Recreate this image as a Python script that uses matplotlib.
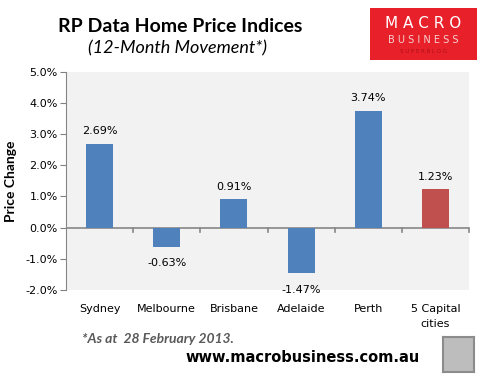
import matplotlib.pyplot as plt
from matplotlib.patches import Rectangle
from matplotlib.ticker import FuncFormatter

cities = ['Sydney', 'Melbourne', 'Brisbane', 'Adelaide', 'Perth', '5 Capital\ncities']
change = [2.69, -0.63, 0.91, -1.47, 3.74, 1.23]
bar_colors = ['#4F81BD'] * 5 + ['#C0504D']
y_ticks = [-2, -1, 0, 1, 2, 3, 4, 5]

fig = plt.figure(figsize=(4.91, 3.80), dpi=100)
fig.patch.set_facecolor('white')

# plot area in pixel terms
W, H = 491, 380
ax = fig.add_axes([66 / W, (H - 290) / H, (469 - 66) / W, (290 - 71.5) / H])
ax.set_facecolor('#F2F2F2')

x = list(range(len(cities)))
ax.bar(x, change, width=0.4, color=bar_colors, zorder=3)

for xi, v in zip(x, change):
    off = 5.5 if v >= 0 else -8
    ax.annotate('%.2f%%' % v, (xi, v), xytext=(0, off), textcoords='offset points',
                ha='center', va='bottom' if v >= 0 else 'top',
                fontsize=8, color='black', zorder=4)

ax.set_xlim(-0.5, len(cities) - 0.5)
ax.set_ylim(-2, 5)
ax.set_yticks(y_ticks)
ax.yaxis.set_major_formatter(FuncFormatter(lambda v, p: '%.1f%%' % v))
ax.tick_params(axis='y', labelsize=8, length=4, color='#808080', direction='out', pad=2)

# category labels at the bottom, ticks on the zero line
ax.set_xticks(x)
ax.set_xticklabels(cities, fontsize=8, linespacing=1.6)
ax.tick_params(axis='x', length=0, pad=10)
ax.axhline(0, color='#868686', lw=1.2, zorder=2)
for b in [i + 0.5 for i in x]:
    ax.plot([b, b], [0, -0.14], color='#868686', lw=1.2, zorder=2, clip_on=False)

for s in ['top', 'right', 'bottom']:
    ax.spines[s].set_visible(False)
ax.spines['left'].set_color('#868686')

ax.set_ylabel('Price Change', fontsize=10, fontweight='bold', family='Lato', labelpad=6)

fig.text(180 / W, 1 - 26 / H, 'RP Data Home Price Indices', ha='center', va='center',
         fontsize=14, fontweight='bold', family='Lato')
fig.text(178 / W, 1 - 48 / H, '(12-Month Movement*)', ha='center', va='center',
         fontsize=13, style='italic', family='Lato')

# logo
logo = fig.add_axes([370 / W, 1 - 60 / H, 107 / W, 52 / H])
logo.set_xlim(0, 1)
logo.set_ylim(0, 1)
logo.axis('off')
logo.add_patch(Rectangle((0, 0), 1, 1, color='#E8202A'))
logo.text(0.5, 0.7, 'M A C R O', color='white', ha='center', va='center', fontsize=11)
logo.text(0.5, 0.38, 'B U S I N E S S', color='#F6D0D0', ha='center', va='center', fontsize=7)
logo.text(0.5, 0.16, 'S U P E R B L O G', color='#B01018', ha='center', va='center', fontsize=4)

fig.text(82 / W, 1 - 339 / H, '*As at  28 February 2013.', ha='left', va='center',
         fontsize=10, fontweight='bold', style='italic', color='#595959', family='Lato')
fig.text(303 / W, 1 - 358 / H, 'www.macrobusiness.com.au', ha='center', va='center',
         fontsize=10.5, fontweight='bold', color='black')

# wolf badge placeholder
badge = fig.add_axes([443 / W, 1 - 372 / H, 31 / W, 35 / H])
badge.set_facecolor('#BDBDBD')
badge.set_xticks([])
badge.set_yticks([])
for s in badge.spines.values():
    s.set_color('#8C8C8C')
    s.set_linewidth(1.5)

fig.savefig('out.png', dpi=100)
